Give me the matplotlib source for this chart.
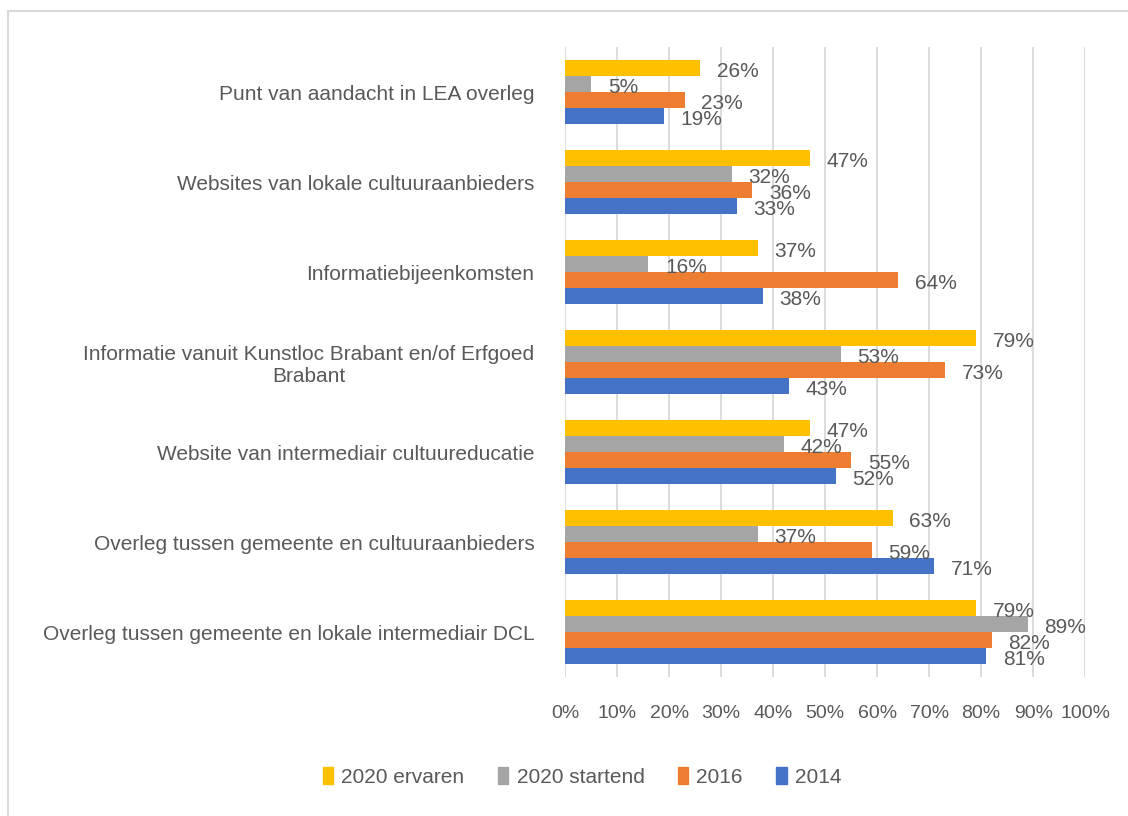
import numpy as np
import matplotlib
matplotlib.use('Agg')
import matplotlib.pyplot as plt
from matplotlib.patches import Rectangle

plt.rcParams['font.family'] = ['Liberation Sans', 'DejaVu Sans']

# Categories from top to bottom
categories = [
    'Punt van aandacht in LEA overleg',
    'Websites van lokale cultuuraanbieders',
    'Informatiebijeenkomsten',
    'Informatie vanuit Kunstloc Brabant en/of Erfgoed\nBrabant',
    'Website van intermediair cultuureducatie',
    'Overleg tussen gemeente en cultuuraanbieders',
    'Overleg tussen gemeente en lokale intermediair DCL',
]
series_names = ['2020 ervaren', '2020 startend', '2016', '2014']
ervaren_2020 = [26, 47, 37, 79, 47, 63, 79]
startend_2020 = [5, 32, 16, 53, 42, 37, 89]
values_2016 = [23, 36, 64, 73, 55, 59, 82]
values_2014 = [19, 33, 38, 43, 52, 71, 81]
colors = ['#FFC000', '#A5A5A5', '#ED7D31', '#4472C4']
ticks = list(range(0, 101, 10))

text_color = '#595959'
series = [ervaren_2020, startend_2020, values_2016, values_2014]

fig = plt.figure(figsize=(11.28, 8.16), dpi=100)
ax = fig.add_axes([0.501, 0.170, 0.461, 0.772])

y = np.arange(len(categories))
h = 0.178
for i, (vals, col) in enumerate(zip(series, colors)):
    pos = y + (i - 1.5) * h
    ax.barh(pos, vals, height=h, color=col, zorder=3)
    for p, v in zip(pos, vals):
        ax.annotate(f'{v}%', (v, p), xytext=(12, -2), textcoords='offset points',
                    ha='left', va='center', fontsize=15, color=text_color, zorder=4)

ax.set_xlim(0, 100)
ax.set_ylim(len(categories) - 0.5, -0.5)
ax.set_xticks(ticks)
ax.set_xticklabels([f'{t}%' for t in ticks], fontsize=14, color=text_color)
ax.set_yticks(y)
ax.set_yticklabels(categories, fontsize=15, color=text_color, multialignment='center')
ax.tick_params(length=0, axis='x', pad=20)
ax.tick_params(length=0, axis='y', pad=22)
ax.grid(axis='x', color='#D9D9D9', linewidth=1.3, zorder=0)
for s in ax.spines.values():
    s.set_visible(False)

handles = [Rectangle((0, 0), 1, 1, color=c) for c in colors]
fig.legend(handles, series_names, loc='center', bbox_to_anchor=(0.516, 0.048),
           ncol=4, frameon=False, fontsize=15, handlelength=0.5, handleheight=0.9,
           columnspacing=1.6, handletextpad=0.4, labelcolor=text_color)

# light frame around the chart area
fig.patches.append(Rectangle((0.007, -0.01), 1.1, 0.996, transform=fig.transFigure,
                             fill=False, edgecolor='#D9D9D9', linewidth=1.5))

fig.savefig('out.png', dpi=100)
